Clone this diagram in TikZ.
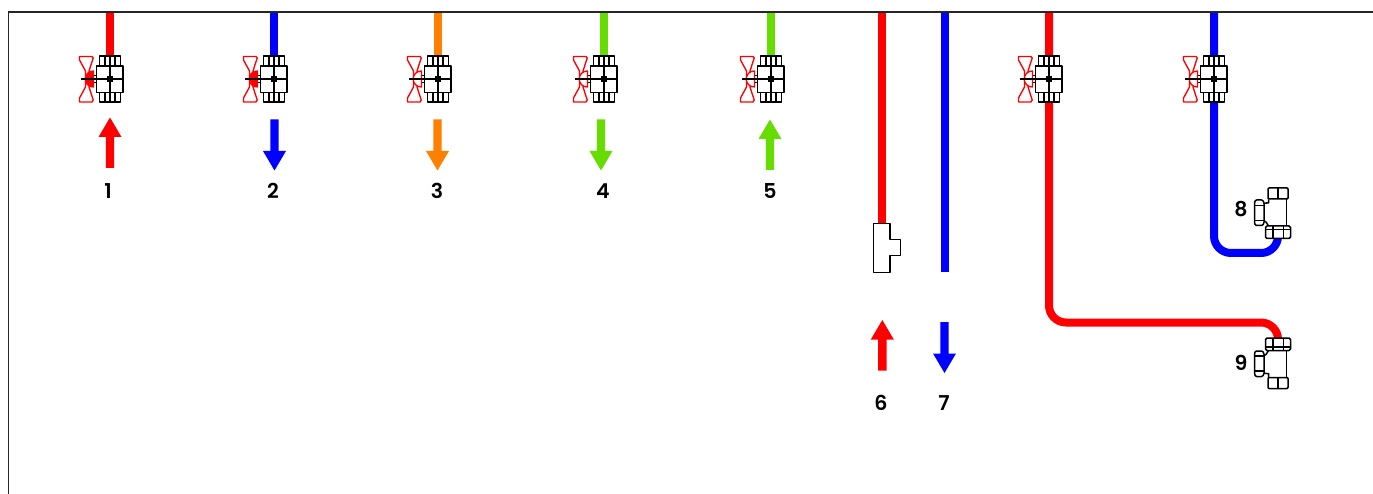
\documentclass[tikz,border=0pt]{standalone}
\usepackage{fontspec}
\setmainfont{Poppins}[BoldFont={Poppins SemiBold}]
\definecolor{pred}{RGB}{255,0,0}
\definecolor{pblue}{RGB}{0,0,255}
\definecolor{porange}{RGB}{255,128,0}
\definecolor{pgreen}{RGB}{102,220,0}
\tikzset{
  x=1pt,y=-1pt,
  frame/.style={draw=black!85,line width=1.3pt},
  pipe/.style={line width=8pt},
  part/.style={draw=black,fill=white,line width=1.5pt,line join=round},
  thin part/.style={draw=black,line width=1.2pt},
  handle/.style={draw=pred,line width=1.35pt,line join=round},
  lab/.style={font=\fontsize{20.5}{20.5}\selectfont\bfseries,text=black,inner sep=0pt},
  pics/valve/.style={code={
    \draw[part] (-10.5,-23) rectangle (10.5,23);
    \draw[part] (-13.5,-13) rectangle (13,13.5);
    \draw[thin part] (-5,-23)--(-5,-13) (5,-23)--(5,-13) (-5,13.5)--(-5,23) (5,13.5)--(5,23);
    \draw[thin part] (0,-23)--(0,23) (-29,0)--(14,0);
    \fill[black] (-3,-3) rectangle (3,3);
    \draw[handle] (-30.5,-22.5) -- (-18,-22.5) -- (-16.8,-21) -- (-21,-8) -- (-21,8) -- (-16.8,21) -- (-18,23) -- (-30.5,23) -- (-30.5,19) -- (-24.5,8) -- (-24.5,-8) -- (-30.5,-19) -- cycle;
    \fill[#1] (-16.5,-8) .. controls (-27.5,-8) and (-27.5,8) .. (-16.5,8) -- cycle;
    \draw[handle] (-16.5,-8) .. controls (-27.5,-8) and (-27.5,8) .. (-16.5,8) -- cycle;
    \draw[thin part] (-16.5,-3.5) -- (-13.5,-3.5) (-16.5,3.5) -- (-13.5,3.5);
    \draw[thin part] (-29,0)--(-13.5,0);
  }},
  pics/valve/.default=white,
}
\newcommand{\tfit}[1]{% #1: 1 = nut at bottom, -1 = nut at top
  \begin{scope}[yscale=#1]
    \fill[white] (-12,-13) rectangle (8,13);
    \draw[part] (-10,-13.5) -- (-10,-10) -- (-12,-10) .. controls (-14,-10) .. (-15.5,-8);
    \draw[part] (8,-13.5) -- (8,13);
    \draw[part] (-15.5,8) .. controls (-13,8) .. (-10,13);
    \draw[part,rounded corners=1pt] (-10.5,-25) rectangle (9.5,-14);
    \draw[thin part] (-0.5,-25)--(-0.5,-14);
    \draw[part,rounded corners=1.5pt] (-13,13) rectangle (12,25.5);
    \draw[thin part] (-5.5,13)--(-5.5,25.5) (5,13)--(5,25.5) (-13,16.5)--(12,16.5);
    \draw[part,rounded corners=1pt] (-23,-13) -- (-16,-13) -- (-14.5,-10.5) -- (-14.5,10) -- (-16,12.5) -- (-23,12.5) -- (-24,10) -- (-24,-10) -- cycle;
    \draw[thin part] (-24,-7.5)--(-14.5,-7.5) (-24,7.5)--(-14.5,7.5);
  \end{scope}}
\newcommand{\uparr}[3]{\fill[#1] (#2-11.5,#3+19.5) -- (#2,#3) -- (#2+11.5,#3+19.5) -- (#2+4.2,#3+19.5) -- (#2+4.2,#3+50.5) -- (#2-4.2,#3+50.5) -- (#2-4.2,#3+19.5) -- cycle;}
\newcommand{\downarr}[3]{\fill[#1] (#2-11.5,#3+31.5) -- (#2,#3+51) -- (#2+11.5,#3+31.5) -- (#2+4.2,#3+31.5) -- (#2+4.2,#3) -- (#2-4.2,#3) -- (#2-4.2,#3+31.5) -- cycle;}
\begin{document}
\begin{tikzpicture}
\useasboundingbox (0,0) rectangle (1373,494);
\coordinate (fa) at (8.5,494);
\coordinate (fb) at (8.5,12);
\coordinate (fc) at (1373,12);
\foreach \n/\x in {a/110,b/274,c/438,d/604,e/771,f/882,g/945,h/1049,i/1214}{
  \coordinate (top\n) at (\x,12);
}
\coordinate (enda) at (110,60);
\coordinate (endb) at (274,60);
\coordinate (endc) at (438,60);
\coordinate (endd) at (604,60);
\coordinate (ende) at (771,60);
\coordinate (endf) at (882,224);
\coordinate (endg) at (945,272);
\coordinate (bendh) at (1049,322.5);
\coordinate (bendh2) at (1278,322.5);
\coordinate (endh) at (1278,341);
\coordinate (bendi) at (1214,253);
\coordinate (bendi2) at (1278,253);
\coordinate (endi) at (1278,236);
\draw[pipe,pred] (topa)--(enda);
\draw[pipe,pblue] (topb)--(endb);
\draw[pipe,porange] (topc)--(endc);
\draw[pipe,pgreen] (topd)--(endd);
\draw[pipe,pgreen] (tope)--(ende);
\draw[pipe,pred] (topf)--(endf);
\draw[pipe,pblue] (topg)--(endg);
\draw[pipe,pred,rounded corners=17pt] (toph) -- (bendh) -- (bendh2) -- (endh);
\draw[pipe,pblue,rounded corners=17pt] (topi) -- (bendi) -- (bendi2) -- (endi);
\draw[frame] (fa)--(fb)--(fc);
\foreach \n/\x/\c in {a/110/pred,b/274/pred,c/438/white,d/604/white,e/771/white,h/1049/white,i/1214/white}{
  \pic (valve\n) at (\x,79) {valve=\c};
}
\draw[part] (873.5,223.5) -- (890,223.5) -- (890,239.5) -- (900.5,239.5) -- (900.5,255.5) -- (890,255.5) -- (890,272.3) -- (873.5,272.3) -- cycle;
\begin{scope}[shift={(1278.5,213)}]\tfit{1}\end{scope}
\begin{scope}[shift={(1278.5,363.5)}]\tfit{-1}\end{scope}
\uparr{pred}{110}{117.5}
\downarr{pblue}{274.5}{119.5}
\downarr{porange}{437.5}{119.5}
\downarr{pgreen}{601}{119.5}
\uparr{pgreen}{770}{119.5}
\uparr{pred}{882.3}{320}
\downarr{pblue}{944.5}{322}
\node[lab] (l1) at (108,191) {1};
\node[lab] (l2) at (273,191) {2};
\node[lab] (l3) at (437,191) {3};
\node[lab] (l4) at (603,191) {4};
\node[lab] (l5) at (770,191) {5};
\node[lab] (l6) at (881,403) {6};
\node[lab] (l7) at (944,403) {7};
\node[lab] (l8) at (1241,209) {8};
\node[lab] (l9) at (1241,363) {9};
\end{tikzpicture}
\end{document}
